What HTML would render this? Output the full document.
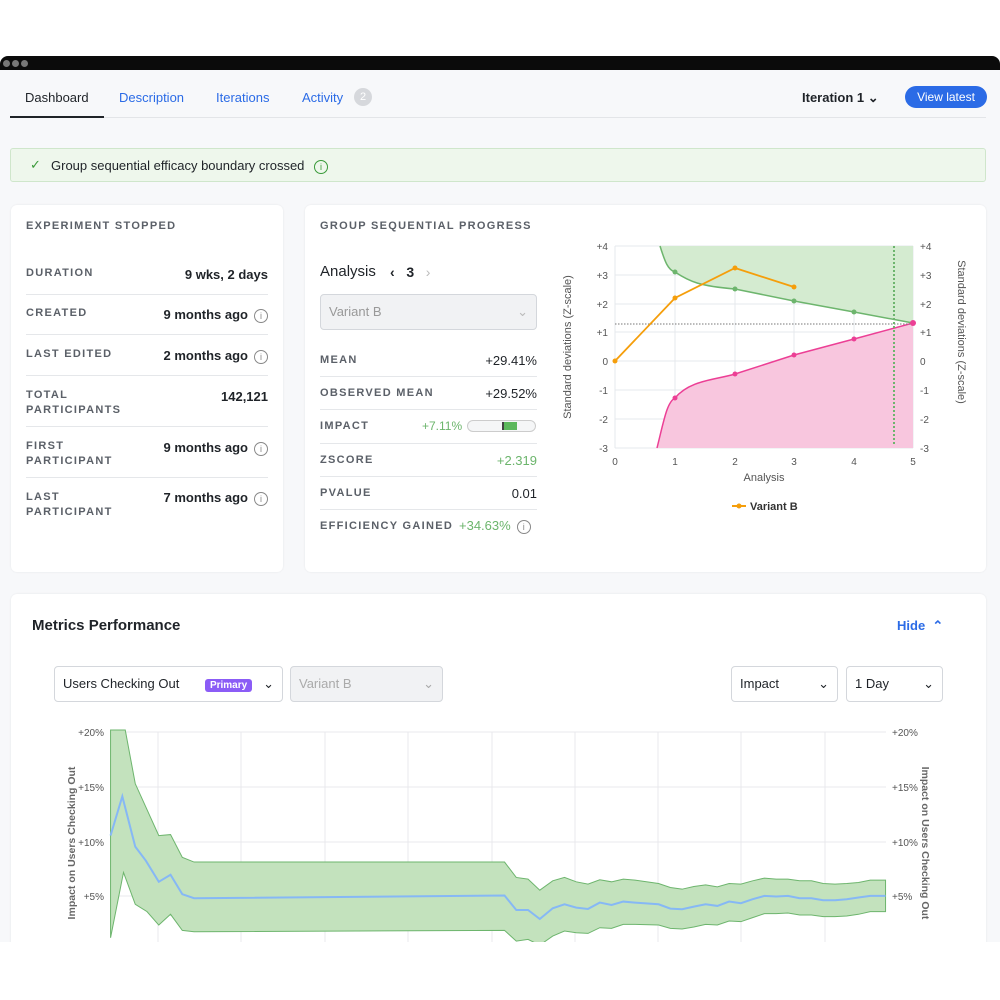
<!DOCTYPE html>
<html><head><meta charset="utf-8"><style>
*{box-sizing:border-box;margin:0;padding:0}
body{width:1000px;height:1000px;background:#fff;font-family:"Liberation Sans",sans-serif;position:relative;overflow:hidden;color:#1f2328}
.a{position:absolute}
.bar{left:0;top:56px;width:1000px;height:16px;background:#0b0b0b;border-radius:8px 8px 0 0}
.dot{width:7px;height:7px;border-radius:50%;background:#777;top:60px}
.app{left:0;top:70px;width:1000px;height:872px;background:#f7f8fa}
.tab{top:90px;font-size:13px;color:#2b6be6}
.card{background:#fff;border-radius:6px;box-shadow:0 0 2px rgba(0,0,0,.08)}
.lbl{font-size:11px;letter-spacing:1.3px;color:#5b6068;font-weight:bold}
.val{font-size:13px;font-weight:bold;color:#1f2328;text-align:right}
.hr{height:1px;background:#e5e7ea}
.info{display:inline-block;width:14px;height:14px;border:1.3px solid #888;border-radius:50%;font-size:9px;text-align:center;line-height:12px;color:#888;vertical-align:middle;margin-left:6px;font-weight:normal}
.sel{border:1px solid #d4d7dc;border-radius:4px;background:#fff;font-size:13px;padding:0 8px;line-height:34px;height:36px}
</style></head><body>
<div class="a bar"></div>
<div class="a dot" style="left:3px"></div><div class="a dot" style="left:12px"></div><div class="a dot" style="left:21px"></div>
<div class="a app"></div>
<div class="a" style="left:10px;top:117px;width:976px;height:1px;background:#e3e5e8"></div>
<div class="a" style="left:10px;top:116px;width:94px;height:2px;background:#1f2328"></div>
<div class="a tab" style="left:25px;color:#1f2328">Dashboard</div>
<div class="a tab" style="left:119px">Description</div>
<div class="a tab" style="left:216px">Iterations</div>
<div class="a tab" style="left:302px">Activity</div>
<div class="a" style="left:354px;top:88px;width:18px;height:18px;border-radius:50%;background:#d6d8dc;color:#fff;font-size:11px;text-align:center;line-height:18px">2</div>
<div class="a" style="left:802px;top:90px;font-size:13px;font-weight:bold">Iteration 1 ⌄</div>
<div class="a" style="left:905px;top:86px;width:82px;height:22px;border-radius:11px;background:#2b6be6;color:#fff;font-size:12px;text-align:center;line-height:22px">View latest</div>
<div class="a" style="left:10px;top:148px;width:976px;height:34px;background:#eef7ec;border:1px solid #cfe6cb;border-radius:3px"></div>
<div class="a" style="left:30px;top:157px;font-size:13px;color:#3a9a3a">✓</div>
<div class="a" style="left:51px;top:158px;font-size:13px">Group sequential efficacy boundary crossed <span class="info" style="border-color:#3a9a3a;color:#3a9a3a">i</span></div>

<div class="a card" style="left:11px;top:205px;width:272px;height:367px"></div>
<div class="a lbl" style="left:26px;top:220px">EXPERIMENT STOPPED</div>
<div class="a lbl" style="left:26px;top:267px">DURATION</div><div class="a val" style="right:732px;top:267px">9 wks, 2 days</div>
<div class="a hr" style="left:26px;top:294px;width:242px"></div>
<div class="a lbl" style="left:26px;top:307px">CREATED</div><div class="a val" style="right:732px;top:307px">9 months ago<span class="info">i</span></div>
<div class="a hr" style="left:26px;top:334px;width:242px"></div>
<div class="a lbl" style="left:26px;top:348px">LAST EDITED</div><div class="a val" style="right:732px;top:348px">2 months ago<span class="info">i</span></div>
<div class="a hr" style="left:26px;top:375px;width:242px"></div>
<div class="a lbl" style="left:26px;top:388px;line-height:15px">TOTAL<br>PARTICIPANTS</div><div class="a val" style="right:732px;top:389px">142,121</div>
<div class="a hr" style="left:26px;top:426px;width:242px"></div>
<div class="a lbl" style="left:26px;top:439px;line-height:15px">FIRST<br>PARTICIPANT</div><div class="a val" style="right:732px;top:440px">9 months ago<span class="info">i</span></div>
<div class="a hr" style="left:26px;top:477px;width:242px"></div>
<div class="a lbl" style="left:26px;top:490px;line-height:15px">LAST<br>PARTICIPANT</div><div class="a val" style="right:732px;top:490px">7 months ago<span class="info">i</span></div>

<div class="a card" style="left:305px;top:205px;width:681px;height:367px"></div>
<div class="a lbl" style="left:320px;top:220px">GROUP SEQUENTIAL PROGRESS</div>
<div class="a" style="left:320px;top:263px;font-size:15px">Analysis</div>
<div class="a" style="left:390px;top:264px;font-size:14px;font-weight:bold">‹ &nbsp; 3 &nbsp; <span style="color:#bbb;font-weight:normal">›</span></div>
<div class="a sel" style="left:320px;top:294px;width:217px;background:#f1f2f4;color:#999">Variant B<span style="float:right;color:#bbb">⌄</span></div>
<div class="a lbl" style="left:320px;top:354px">MEAN</div><div class="a" style="right:463px;top:353px;font-size:13px">+29.41%</div>
<div class="a hr" style="left:320px;top:376px;width:217px"></div>
<div class="a lbl" style="left:320px;top:387px">OBSERVED MEAN</div><div class="a" style="right:463px;top:386px;font-size:13px">+29.52%</div>
<div class="a hr" style="left:320px;top:409px;width:217px"></div>
<div class="a lbl" style="left:320px;top:420px">IMPACT</div><div class="a" style="left:422px;top:419px;font-size:12px;color:#6cb56c">+7.11%</div>
<div class="a" style="left:467px;top:420px;width:69px;height:12px;border:1px solid #ccc;border-radius:6px;background:#f5f6f7"></div>
<div class="a" style="left:502px;top:422px;width:15px;height:8px;background:#5cb85c;border-left:2px solid #444"></div>
<div class="a hr" style="left:320px;top:443px;width:217px"></div>
<div class="a lbl" style="left:320px;top:454px">ZSCORE</div><div class="a" style="right:463px;top:453px;font-size:13px;color:#6cb56c">+2.319</div>
<div class="a hr" style="left:320px;top:476px;width:217px"></div>
<div class="a lbl" style="left:320px;top:487px">PVALUE</div><div class="a" style="right:463px;top:486px;font-size:13px">0.01</div>
<div class="a hr" style="left:320px;top:509px;width:217px"></div>
<div class="a lbl" style="left:320px;top:520px">EFFICIENCY GAINED</div><div class="a" style="left:459px;top:518px;font-size:13px;color:#6cb56c">+34.63%<span class="info">i</span></div>

<svg class="a" style="left:0;top:0" width="1000" height="1000" font-family="Liberation Sans" font-size="10" fill="#555">
<g stroke="#e6e8ec" stroke-width="1">
<line x1="615" y1="246" x2="913" y2="246"/><line x1="615" y1="275" x2="913" y2="275"/><line x1="615" y1="304" x2="913" y2="304"/><line x1="615" y1="332" x2="913" y2="332"/><line x1="615" y1="361" x2="913" y2="361"/><line x1="615" y1="390" x2="913" y2="390"/><line x1="615" y1="419" x2="913" y2="419"/><line x1="615" y1="448" x2="913" y2="448"/>
<line x1="615" y1="246" x2="615" y2="448"/><line x1="675" y1="246" x2="675" y2="448"/><line x1="735" y1="246" x2="735" y2="448"/><line x1="794" y1="246" x2="794" y2="448"/><line x1="854" y1="246" x2="854" y2="448"/><line x1="913" y1="246" x2="913" y2="448"/>
</g>
<path d="M660,246 C665,262 668,270 675,272 C690,282 700,286 735,289 L794,301 L854,312 L913,323 L913,246 Z" fill="#d4ebd0"/>
<path d="M660,246 C665,262 668,270 675,272 C690,282 700,286 735,289 L794,301 L854,312 L913,323" fill="none" stroke="#6db56d" stroke-width="1.5"/>
<path d="M657,448 C664,420 667,402 675,398 C690,380 715,380 735,374 L794,355 L854,339 L913,323 L913,448 Z" fill="#f8c6de"/>
<path d="M657,448 C664,420 667,402 675,398 C690,380 715,380 735,374 L794,355 L854,339 L913,323" fill="none" stroke="#ec3f95" stroke-width="1.5"/>
<line x1="615" y1="324" x2="913" y2="324" stroke="#777" stroke-dasharray="1.5,1.5"/>
<line x1="894" y1="246" x2="894" y2="446" stroke="#6db56d" stroke-width="2" stroke-dasharray="2,2"/>
<g fill="#6db56d"><circle cx="675" cy="272" r="2.5"/><circle cx="735" cy="289" r="2.5"/><circle cx="794" cy="301" r="2.5"/><circle cx="854" cy="312" r="2.5"/></g>
<g fill="#ec3f95"><circle cx="675" cy="398" r="2.5"/><circle cx="735" cy="374" r="2.5"/><circle cx="794" cy="355" r="2.5"/><circle cx="854" cy="339" r="2.5"/><circle cx="913" cy="323" r="3"/></g>
<polyline points="615,361 675,298 735,268 794,287" fill="none" stroke="#f59e0b" stroke-width="1.8"/>
<g fill="#f59e0b"><circle cx="615" cy="361" r="2.5"/><circle cx="675" cy="298" r="2.5"/><circle cx="735" cy="268" r="2.5"/><circle cx="794" cy="287" r="2.5"/></g>
<g text-anchor="end"><text x="608" y="250">+4</text><text x="608" y="279">+3</text><text x="608" y="308">+2</text><text x="608" y="336">+1</text><text x="608" y="365">0</text><text x="608" y="394">-1</text><text x="608" y="423">-2</text><text x="608" y="452">-3</text></g>
<g><text x="920" y="250">+4</text><text x="920" y="279">+3</text><text x="920" y="308">+2</text><text x="920" y="336">+1</text><text x="920" y="365">0</text><text x="920" y="394">-1</text><text x="920" y="423">-2</text><text x="920" y="452">-3</text></g>
<g text-anchor="middle"><text x="615" y="465">0</text><text x="675" y="465">1</text><text x="735" y="465">2</text><text x="794" y="465">3</text><text x="854" y="465">4</text><text x="913" y="465">5</text>
<text x="764" y="481" font-size="11">Analysis</text>
<text transform="translate(571,347) rotate(-90)" font-size="11">Standard deviations (Z-scale)</text>
<text transform="translate(958,332) rotate(90)" font-size="11">Standard deviations (Z-scale)</text></g>
<line x1="732" y1="506" x2="746" y2="506" stroke="#f59e0b" stroke-width="2"/><circle cx="739" cy="506" r="2.5" fill="#f59e0b"/>
<text x="750" y="510" font-size="11" font-weight="bold" fill="#333">Variant B</text>
</svg>

<div class="a card" style="left:11px;top:594px;width:975px;height:360px"></div>
<div class="a" style="left:32px;top:617px;font-size:15px;font-weight:bold">Metrics Performance</div>
<div class="a" style="left:897px;top:618px;font-size:13px;color:#2b6be6;font-weight:bold">Hide &nbsp;⌃</div>
<div class="a sel" style="left:54px;top:666px;width:229px">Users Checking Out <span style="background:#8b5cf6;color:#fff;font-size:10px;font-weight:bold;padding:1px 5px;border-radius:3px;margin-left:22px">Primary</span> <span style="float:right">⌄</span></div>
<div class="a sel" style="left:290px;top:666px;width:153px;background:#f1f2f4;color:#aaa">Variant B<span style="float:right">⌄</span></div>
<div class="a sel" style="left:731px;top:666px;width:107px">Impact<span style="float:right">⌄</span></div>
<div class="a sel" style="left:846px;top:666px;width:97px">1 Day<span style="float:right">⌄</span></div>

<svg class="a" style="left:0;top:0" width="1000" height="942" font-family="Liberation Sans" font-size="10" fill="#555">
<g stroke="#e8e9ec"><line x1="111" y1="732" x2="886" y2="732"/><line x1="111" y1="787" x2="886" y2="787"/><line x1="111" y1="842" x2="886" y2="842"/><line x1="111" y1="896" x2="886" y2="896"/>
<line x1="158" y1="732" x2="158" y2="942"/><line x1="241" y1="732" x2="241" y2="942"/><line x1="325" y1="732" x2="325" y2="942"/><line x1="408" y1="732" x2="408" y2="942"/><line x1="492" y1="732" x2="492" y2="942"/><line x1="575" y1="732" x2="575" y2="942"/><line x1="658" y1="732" x2="658" y2="942"/><line x1="741" y1="732" x2="741" y2="942"/><line x1="825" y1="732" x2="825" y2="942"/></g>
<g transform="translate(40,720) scale(0.588,0.335)">
<path d="M120,30 L145,30 L162,190 L202,345 L222,342 L242,410 L262,424 L790,424 L810,470 L830,475 L850,508 L872,480 L892,470 L912,483 L932,490 L952,477 L972,483 L992,475 L1012,478 L1052,488 L1072,500 L1092,505 L1112,497 L1132,492 L1152,498 L1172,488 L1192,490 L1212,480 L1232,472 L1252,475 L1272,475 L1292,480 L1312,480 L1332,488 L1352,490 L1372,488 L1392,485 L1412,478 L1438,478 L1438,572 L1412,572 L1392,580 L1372,585 L1352,587 L1332,587 L1312,582 L1292,582 L1272,576 L1252,578 L1232,578 L1212,590 L1192,602 L1172,600 L1152,612 L1132,610 L1112,618 L1092,624 L1072,622 L1052,612 L1012,610 L992,610 L972,622 L952,620 L932,637 L912,635 L892,630 L872,645 L850,672 L830,655 L810,660 L790,628 L262,632 L242,628 L222,580 L202,612 L182,572 L162,550 L142,455 L120,650 Z" fill="#c3e2bd" stroke="#6db56d" stroke-width="1" vector-effect="non-scaling-stroke"/>
<polyline points="120,345 140,228 162,378 180,420 202,483 222,462 242,520 262,532 790,524 810,567 830,567 850,594 872,562 892,550 912,560 932,564 952,545 972,552 992,542 1012,545 1052,550 1072,563 1092,565 1112,557 1132,550 1152,555 1172,542 1192,547 1212,535 1232,525 1252,527 1272,525 1292,532 1312,532 1332,538 1352,538 1372,535 1392,530 1412,525 1438,525" fill="none" stroke="#86b8f5" stroke-width="2" vector-effect="non-scaling-stroke"/>
</g>
<g text-anchor="end"><text x="104" y="736">+20%</text><text x="104" y="791">+15%</text><text x="104" y="846">+10%</text><text x="104" y="900">+5%</text></g>
<g><text x="892" y="736">+20%</text><text x="892" y="791">+15%</text><text x="892" y="846">+10%</text><text x="892" y="900">+5%</text></g>
<text transform="translate(75,843) rotate(-90)" text-anchor="middle" font-size="10.5" font-weight="bold" fill="#666">Impact on Users Checking Out</text>
<text transform="translate(922,843) rotate(90)" text-anchor="middle" font-size="10.5" font-weight="bold" fill="#666">Impact on Users Checking Out</text>
</svg>
<div class="a" style="left:0;top:942px;width:1000px;height:58px;background:#fff"></div>
</body></html>
